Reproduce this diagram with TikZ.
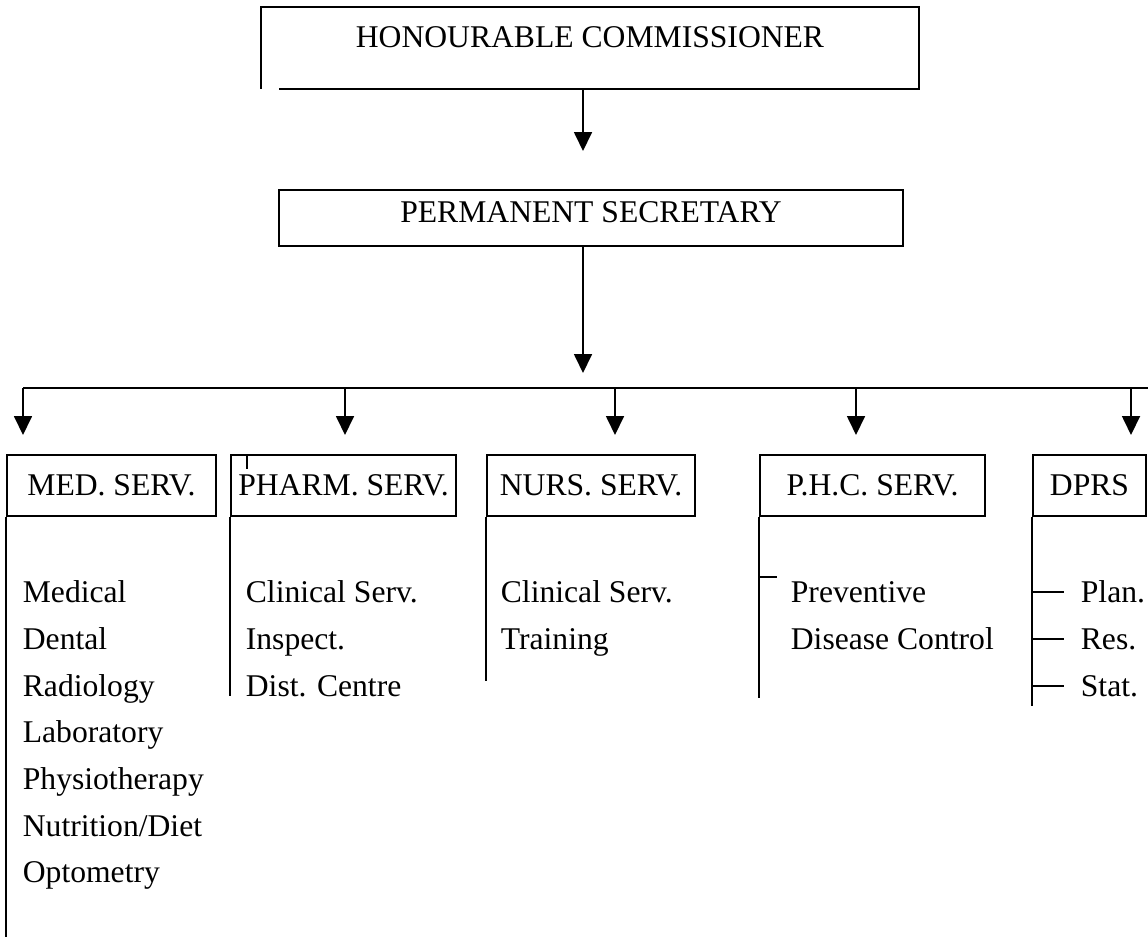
\documentclass[tikz,border=0pt]{standalone}
\usepackage{fontspec}
\setmainfont{Liberation Serif}
\usetikzlibrary{arrows.meta,positioning}
\tikzset{
  head/.style ={inner sep=0pt,font=\fontsize{18}{22}\selectfont},
  dept/.style ={draw,inner sep=0pt,font=\fontsize{18}{22}\selectfont,minimum height=1.22cm},
  item/.style ={anchor=base west,inner sep=0pt,font=\fontsize{18}{22}\selectfont},
  ar/.style   ={-{Triangle[length=0.38cm,width=0.36cm]}},
}
\begin{document}
\begin{tikzpicture}[x=0.02cm,y=-0.02cm,line width=1pt]
  \useasboundingbox (0,0) rectangle (1148,944);
  % top levels
  \node[head,minimum width=13.12cm,text height=0.78cm,text depth=0.82cm] (comm) at (590,48) {HONOURABLE COMMISSIONER};
  \draw (comm.south west) -- (comm.north west) -- (comm.north east) -- (comm.south east) -- ([xshift=0.36cm]comm.south west);
  \node[head,draw,minimum width=12.48cm,text height=0.65cm,text depth=0.47cm] (ps) at (591,218) {PERMANENT SECRETARY};
  \coordinate (tps1) at (583,151);
  \coordinate (tps2) at (583,373);
  \draw[ar] (comm.south -| tps1) -- (tps1);
  \draw[ar] (ps.south -| tps2) -- (tps2);

  % services
  \node[dept,minimum width=4.18cm] (med)   at (111.5,485.5) {MED. SERV.};
  \node[dept,minimum width=4.5cm]  (pharm) at (343.5,485.5) {PHARM. SERV.};
  \node[dept,minimum width=4.16cm] (nurs)  at (591,485.5)   {NURS. SERV.};
  \node[dept,minimum width=4.5cm]  (phc)   at (872.5,485.5) {P.H.C. SERV.};
  \node[dept,minimum width=2.26cm] (dprs)  at (1089.5,485.5) {DPRS};
  \draw ([xshift=0.34cm]pharm.north west) -- ++(0,15);

  \coordinate (busL) at (23,388);
  \coordinate (busR) at (1148,388);
  \draw (busL) -- (busR);
  \coordinate (tmed)   at (23,435);
  \coordinate (tpharm) at (345,435);
  \coordinate (tnurs)  at (615,435);
  \coordinate (tphc)   at (856,435);
  \coordinate (tdprs)  at (1131,435);
  \foreach \t in {tmed,tpharm,tnurs,tphc,tdprs}
    \draw[ar] (busL -| \t) -- (\t);

  % sections
  \draw (med.south west) -- ++(0,420);
  \draw (pharm.south west) -- ++(0,179);
  \draw (nurs.south west) -- ++(0,164);
  \draw (phc.south west) -- ++(0,181);
  \draw (dprs.south west) -- ++(0,189);

  \foreach \t [count=\i] in {Medical,Dental,Radiology,Laboratory,Physiotherapy,Nutrition/Diet,Optometry}
    \node[item] (med\i) at (22,{556+46.7*\i}) {\t};
  \foreach \t [count=\i] in {Clinical Serv.,Inspect.,Dist. Centre}
    \node[item] (pharm\i) at (245,{556+46.7*\i}) {\t};
  \foreach \t [count=\i] in {Clinical Serv.,Training}
    \node[item] (nurs\i) at (500,{556+46.7*\i}) {\t};
  \foreach \t [count=\i] in {Preventive,Disease Control}
    \node[item] (phc\i) at (790,{556+46.7*\i}) {\t};
  \draw (phc.south west) ++(0,60) -- ++(18,0);
  \foreach \t [count=\i] in {Plan.,Res.,Stat.} {
    \node[item] (dprs\i) at (1080,{556+46.7*\i}) {\t};
    \draw (dprs.south west |- dprs\i.west) -- ++(32,0);
  }
\end{tikzpicture}
\end{document}
